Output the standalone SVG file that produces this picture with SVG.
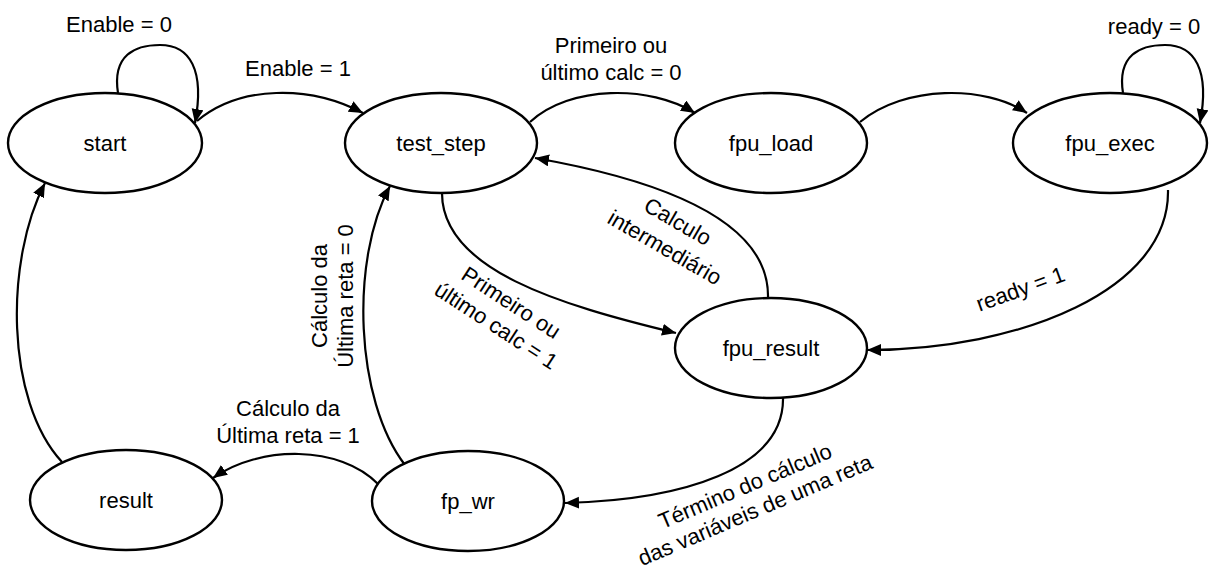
<svg xmlns="http://www.w3.org/2000/svg" width="1210" height="571" viewBox="0 0 1210 571">
  <style>
    .state ellipse { fill: #ffffff; stroke: #000000; stroke-width: 2.4; }
    .state text, .label { font-family: "Liberation Sans", Arial, sans-serif; font-size: 22px; fill: #000000; text-anchor: middle; }
    .edge { fill: none; stroke: #000000; stroke-width: 2.2; marker-end: url(#arrow); }
  </style>
  <defs>
    <marker id="arrow" markerUnits="userSpaceOnUse" markerWidth="16" markerHeight="14" refX="14" refY="6" orient="auto">
      <path d="M0,0 L14,6 L0,12 Z" fill="#000000"/>
    </marker>
  </defs>

  <rect width="1210" height="571" fill="#ffffff"/>

  <!-- transitions -->
  <g id="connectors">
    <!-- start: Enable = 0 (self loop) -->
    <path class="edge" d="M118,93 C112,55 135,45 160,45 C190,45 205,70 195,123"/>
    <!-- start -> test_step -->
    <path class="edge" d="M197,121 C240,85 310,85 363,113"/>
    <!-- test_step -> fpu_load -->
    <path class="edge" d="M530,122 C570,85 650,85 695,113"/>
    <!-- fpu_load -> fpu_exec -->
    <path class="edge" d="M860,122 C905,85 985,85 1027,113"/>
    <!-- fpu_exec: ready = 0 (self loop) -->
    <path class="edge" d="M1123,93 C1117,55 1140,45 1165,45 C1195,45 1210,70 1200,123"/>
    <!-- fpu_exec -> fpu_result -->
    <path class="edge" d="M1168,190 C1170,290 1020,350 867,350"/>
    <!-- test_step -> fpu_result -->
    <path class="edge" d="M442,193 C442,270 560,305 676,333"/>
    <!-- fpu_result -> test_step -->
    <path class="edge" d="M768,298 C770,220 660,180 535,158"/>
    <!-- fpu_result -> fp_wr -->
    <path class="edge" d="M783,397 C785,470 680,500 565,503"/>
    <!-- fp_wr -> test_step -->
    <path class="edge" d="M405,465 C355,400 350,260 390,186"/>
    <!-- fp_wr -> result -->
    <path class="edge" d="M378,484 C340,445 260,445 213,478"/>
    <!-- result -> start -->
    <path class="edge" d="M62,462 C5,400 5,260 45,183"/>
  </g>

  <!-- transition labels -->
  <g id="labels">
    <text class="label" x="119" y="32">Enable = 0</text>
    <text class="label" x="298" y="76">Enable = 1</text>
    <text class="label" x="611" y="53">Primeiro ou</text>
    <text class="label" x="611" y="80">último calc = 0</text>
    <text class="label" x="1154" y="34">ready = 0</text>
    <text class="label" transform="translate(1023,296) rotate(-20)">ready = 1</text>
    <text class="label" transform="translate(674,228) rotate(30)">Calculo</text>
    <text class="label" transform="translate(661,254) rotate(30)">intermediário</text>
    <text class="label" transform="translate(507,309) rotate(33)">Primeiro ou</text>
    <text class="label" transform="translate(492,332) rotate(33)">último calc = 1</text>
    <text class="label" transform="translate(327,296) rotate(-90)">Cálculo da</text>
    <text class="label" transform="translate(353,296) rotate(-90)">Última reta = 0</text>
    <text class="label" x="288" y="416">Cálculo da</text>
    <text class="label" x="288" y="443">Última reta = 1</text>
    <text class="label" transform="translate(748,493) rotate(-23)">Término do cálculo</text>
    <text class="label" transform="translate(758,517) rotate(-23)">das variáveis de uma reta</text>
  </g>

  <!-- states -->
  <g id="start" class="state">
    <ellipse cx="105" cy="143" rx="97" ry="50"/>
    <text x="105" y="151">start</text>
  </g>
  <g id="test_step" class="state">
    <ellipse cx="441" cy="143" rx="96" ry="50"/>
    <text x="441" y="151">test_step</text>
  </g>
  <g id="fpu_load" class="state">
    <ellipse cx="771" cy="143" rx="96" ry="50"/>
    <text x="771" y="151">fpu_load</text>
  </g>
  <g id="fpu_exec" class="state">
    <ellipse cx="1110" cy="143" rx="97" ry="50"/>
    <text x="1110" y="151">fpu_exec</text>
  </g>
  <g id="fpu_result" class="state">
    <ellipse cx="771" cy="348" rx="96" ry="50"/>
    <text x="771" y="356">fpu_result</text>
  </g>
  <g id="fp_wr" class="state">
    <ellipse cx="468" cy="501" rx="96" ry="50"/>
    <text x="468" y="509">fp_wr</text>
  </g>
  <g id="result" class="state">
    <ellipse cx="126" cy="500" rx="96" ry="50"/>
    <text x="126" y="508">result</text>
  </g>
</svg>
